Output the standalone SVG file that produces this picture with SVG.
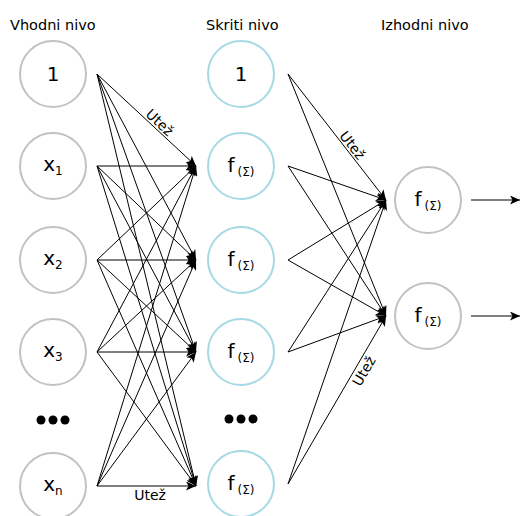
<svg xmlns="http://www.w3.org/2000/svg" width="520" height="516" viewBox="0 0 520 516">
  <defs>
    <style>
      text { font-family: "DejaVu Sans", Verdana, sans-serif; fill: #000; }
      .hdr { font-size: 14.5px; }
      .lbl { font-size: 20px; }
      .sub { font-size: 12px; }
      .w { font-size: 14px; }
      .in { fill: #fff; stroke: #c2c2c2; stroke-width: 2; }
      .hid { fill: #fff; stroke: #a6d9e4; stroke-width: 2; }
      .out { fill: #fff; stroke: #c2c2c2; stroke-width: 2; }
      .edge { stroke: #000; stroke-width: 1; fill: none; marker-end: url(#arrow); }
    </style>
    <marker id="arrow" markerUnits="userSpaceOnUse" markerWidth="11" markerHeight="9" refX="10" refY="4.5" orient="auto">
      <path d="M0,0 L10,4.5 L0,9 L2.5,4.5 z" fill="#000"/>
    </marker>
  </defs>

  <!-- layer titles -->
  <text class="hdr" x="10" y="30">Vhodni nivo</text>
  <text class="hdr" x="206" y="30">Skriti nivo</text>
  <text class="hdr" x="381" y="30">Izhodni nivo</text>

  <!-- connections -->
  <g id="connectors">
    <!-- input layer to hidden layer -->
    <line class="edge" x1="97" y1="74" x2="196" y2="166"/>
    <line class="edge" x1="97" y1="74" x2="196" y2="260"/>
    <line class="edge" x1="97" y1="74" x2="196" y2="352"/>
    <line class="edge" x1="97" y1="74" x2="196" y2="486"/>
    <line class="edge" x1="97" y1="166" x2="196" y2="166"/>
    <line class="edge" x1="97" y1="166" x2="196" y2="260"/>
    <line class="edge" x1="97" y1="166" x2="196" y2="352"/>
    <line class="edge" x1="97" y1="166" x2="196" y2="486"/>
    <line class="edge" x1="97" y1="260" x2="196" y2="166"/>
    <line class="edge" x1="97" y1="260" x2="196" y2="260"/>
    <line class="edge" x1="97" y1="260" x2="196" y2="352"/>
    <line class="edge" x1="97" y1="260" x2="196" y2="486"/>
    <line class="edge" x1="97" y1="352" x2="196" y2="166"/>
    <line class="edge" x1="97" y1="352" x2="196" y2="260"/>
    <line class="edge" x1="97" y1="352" x2="196" y2="352"/>
    <line class="edge" x1="97" y1="352" x2="196" y2="486"/>
    <line class="edge" x1="97" y1="486" x2="196" y2="166"/>
    <line class="edge" x1="97" y1="486" x2="196" y2="260"/>
    <line class="edge" x1="97" y1="486" x2="196" y2="352"/>
    <line class="edge" x1="97" y1="486" x2="196" y2="486"/>
    <!-- hidden layer to output layer -->
    <line class="edge" x1="288" y1="74" x2="386" y2="200"/>
    <line class="edge" x1="288" y1="74" x2="386" y2="316"/>
    <line class="edge" x1="288" y1="166" x2="386" y2="200"/>
    <line class="edge" x1="288" y1="166" x2="386" y2="316"/>
    <line class="edge" x1="288" y1="260" x2="386" y2="200"/>
    <line class="edge" x1="288" y1="260" x2="386" y2="316"/>
    <line class="edge" x1="288" y1="352" x2="386" y2="200"/>
    <line class="edge" x1="288" y1="352" x2="386" y2="316"/>
    <line class="edge" x1="288" y1="484" x2="386" y2="200"/>
    <line class="edge" x1="288" y1="484" x2="386" y2="316"/>
    <!-- outputs -->
    <line class="edge" x1="471" y1="200" x2="520" y2="200"/>
    <line class="edge" x1="471" y1="316" x2="520" y2="316"/>

    <!-- weight labels -->
    <text class="w" text-anchor="middle" transform="translate(155,127.6) rotate(43)" y="-2">Utež</text>
    <text class="w" text-anchor="middle" transform="translate(347,149.6) rotate(52)" y="-2">Utež</text>
    <text class="w" text-anchor="middle" transform="translate(357,367) rotate(-60)" y="13">Utež</text>
    <text class="w" text-anchor="middle" x="150" y="500">Utež</text>
  </g>

  <!-- input layer -->
  <g id="in-1">
    <circle class="in" cx="53" cy="74" r="33"/>
    <text class="lbl" x="53" y="81" text-anchor="middle">1</text>
  </g>
  <g id="in-x1">
    <circle class="in" cx="53" cy="166" r="33"/>
    <text class="lbl" x="53" y="171" text-anchor="middle">x<tspan class="sub" dy="4">1</tspan></text>
  </g>
  <g id="in-x2">
    <circle class="in" cx="53" cy="260" r="33"/>
    <text class="lbl" x="53" y="265" text-anchor="middle">x<tspan class="sub" dy="4">2</tspan></text>
  </g>
  <g id="in-x3">
    <circle class="in" cx="53" cy="352" r="33"/>
    <text class="lbl" x="53" y="357" text-anchor="middle">x<tspan class="sub" dy="4">3</tspan></text>
  </g>
  <g id="in-dots">
    <circle cx="41" cy="420" r="4.5" fill="#000"/>
    <circle cx="53" cy="420" r="4.5" fill="#000"/>
    <circle cx="65" cy="420" r="4.5" fill="#000"/>
  </g>
  <g id="in-xn">
    <circle class="in" cx="53" cy="486" r="33"/>
    <text class="lbl" x="53" y="491" text-anchor="middle">x<tspan class="sub" dy="4">n</tspan></text>
  </g>

  <!-- hidden layer -->
  <g id="hid-1">
    <circle class="hid" cx="241" cy="74" r="33"/>
    <text class="lbl" x="241" y="81" text-anchor="middle">1</text>
  </g>
  <g id="hid-f1">
    <circle class="hid" cx="241" cy="166" r="33"/>
    <text class="lbl" x="241" y="172" text-anchor="middle">f<tspan class="sub" dx="3" dy="4">(Σ)</tspan></text>
  </g>
  <g id="hid-f2">
    <circle class="hid" cx="241" cy="260" r="33"/>
    <text class="lbl" x="241" y="266" text-anchor="middle">f<tspan class="sub" dx="3" dy="4">(Σ)</tspan></text>
  </g>
  <g id="hid-f3">
    <circle class="hid" cx="241" cy="352" r="33"/>
    <text class="lbl" x="241" y="358" text-anchor="middle">f<tspan class="sub" dx="3" dy="4">(Σ)</tspan></text>
  </g>
  <g id="hid-dots">
    <circle cx="229" cy="419" r="4.5" fill="#000"/>
    <circle cx="241" cy="419" r="4.5" fill="#000"/>
    <circle cx="253" cy="419" r="4.5" fill="#000"/>
  </g>
  <g id="hid-fn">
    <circle class="hid" cx="241" cy="484" r="33"/>
    <text class="lbl" x="241" y="490" text-anchor="middle">f<tspan class="sub" dx="3" dy="4">(Σ)</tspan></text>
  </g>

  <!-- output layer -->
  <g id="out-1">
    <circle class="out" cx="428" cy="200" r="33"/>
    <text class="lbl" x="428" y="206" text-anchor="middle">f<tspan class="sub" dx="3" dy="4">(Σ)</tspan></text>
  </g>
  <g id="out-2">
    <circle class="out" cx="428" cy="316" r="33"/>
    <text class="lbl" x="428" y="322" text-anchor="middle">f<tspan class="sub" dx="3" dy="4">(Σ)</tspan></text>
  </g>
</svg>
